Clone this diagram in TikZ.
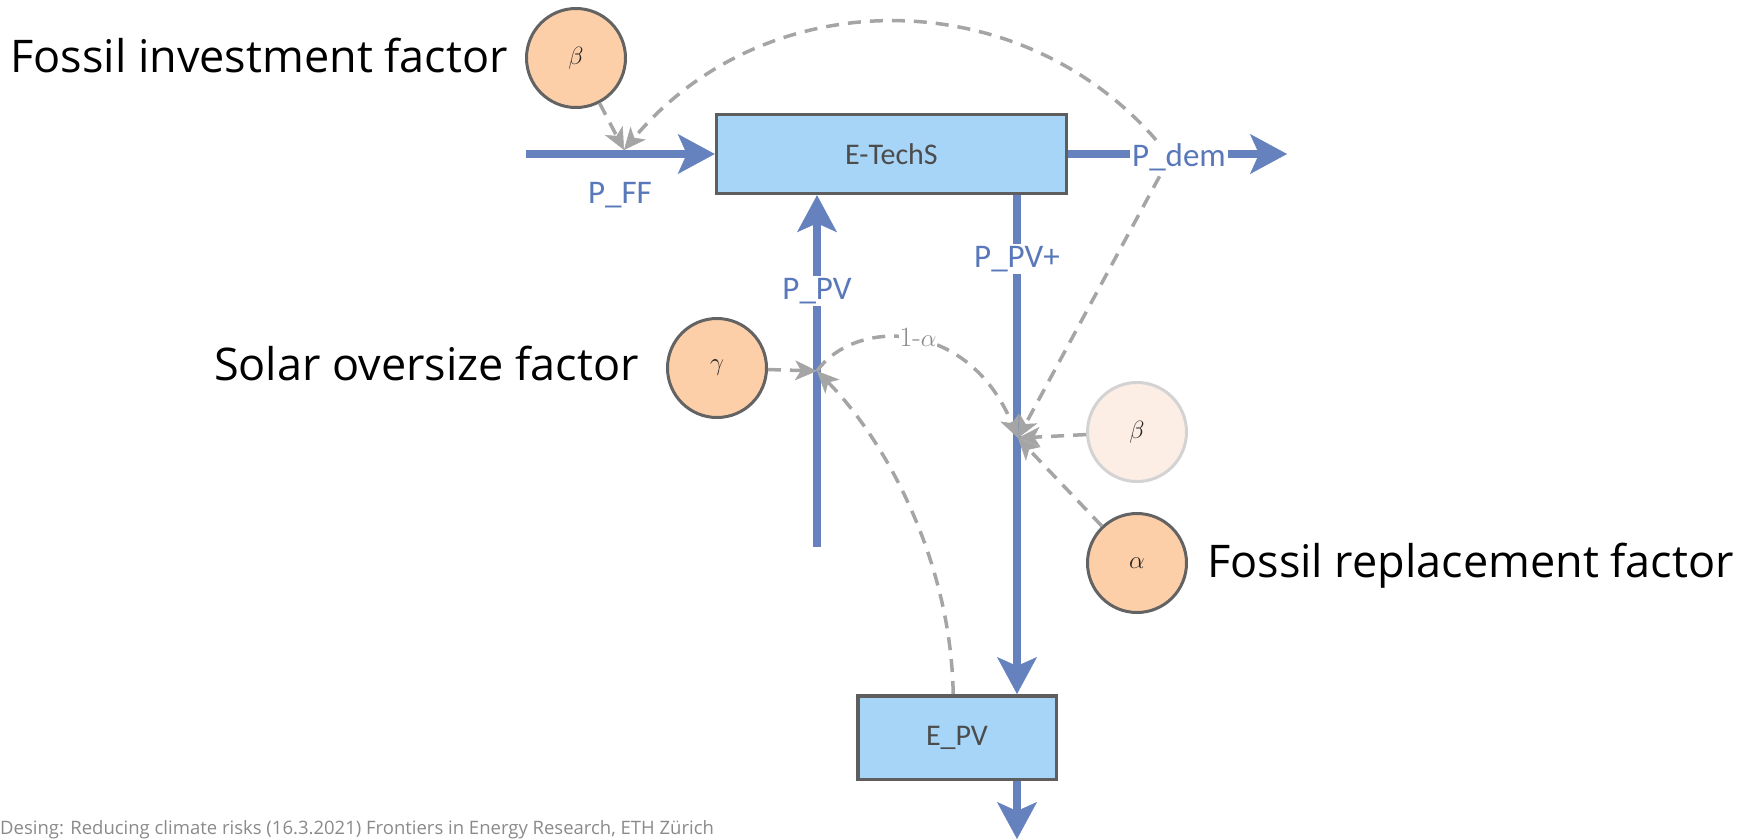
\documentclass[tikz,border=0pt]{standalone}
\usepackage{fontspec}
\usepackage{tikz}
\usetikzlibrary{arrows.meta}
\newfontfamily\labelfont{Open Sans}
\newfontfamily\flowfont{Carlito}
\definecolor{stockblue}{HTML}{A7D5F7}
\definecolor{boxgrey}{HTML}{5E5E5E}
\definecolor{convpeach}{HTML}{FCCFA9}
\definecolor{convgrey}{HTML}{636363}
\definecolor{ghostpeach}{HTML}{FCEEE4}
\definecolor{ghostgrey}{HTML}{D3D3D3}
\definecolor{flowblue}{HTML}{6582BE}
\definecolor{flowtext}{HTML}{5878BA}
\definecolor{linkgrey}{HTML}{A5A5A5}
\definecolor{notegrey}{HTML}{8A8A8A}

\begin{document}
\begin{tikzpicture}[x=1pt,y=-1pt,
        stock/.style={draw=boxgrey,line width=3.5pt,fill=stockblue,inner sep=0pt,
            text=black!70,font=\flowfont\fontsize{30}{36}\selectfont},
        conv/.style={circle,draw=convgrey,line width=3pt,fill=convpeach,
            minimum size=99pt,inner sep=0pt,text=black!85,font=\fontsize{26}{30}\selectfont},
        ghost/.style={conv,draw=ghostgrey,fill=ghostpeach},
        flow/.style={draw=flowblue,line width=8pt,
            -{Stealth[length=37pt,width=40pt,inset=9pt,line width=0.5pt]}},
        link/.style={draw=linkgrey,line width=3.5pt,dash pattern=on 13pt off 9pt,
            -{Stealth[length=22pt,width=20pt,inset=6pt,line width=0.5pt]}},
        flowlabel/.style={fill=white,inner sep=2pt,text=flowtext,
            font=\flowfont\fontsize{33}{36}\selectfont},
        factor/.style={inner sep=0pt,font=\labelfont\fontsize{45}{54}\selectfont}]
        \useasboundingbox (0,0) rectangle (1749,839);

        \node[stock,minimum width=350pt,minimum height=79pt] (etech) at (891.5,154) {E-TechS};
        \node[stock,minimum width=198.5pt,minimum height=83.5pt] (epv) at (957,737.5) {E\_PV};
        \node[conv] (beta) at (576,58) {$\beta$};
        \node[conv] (gamma) at (717,368) {$\gamma$};
        \node[ghost] (betaold) at (1137,432) {$\beta$};
        \node[conv] (alpha) at (1137,563) {$\alpha$};

        \node[factor,anchor=base east] (fiflabel) at (508,72) {Fossil investment factor};
        \node[factor,anchor=base east] (soflabel) at (639,380) {Solar oversize factor};
        \node[factor,anchor=base west] (frflabel) at (1207,577) {Fossil replacement factor};
        \node[anchor=base west,inner sep=0pt,text=notegrey,font=\labelfont\fontsize{18.5}{22}\selectfont]
            (note) at (0,834) {Desing: Reducing climate risks (16.3.2021) Frontiers in Energy Research, ETH Zürich};

        \coordinate (ffin) at (526,154);
        \coordinate (demout) at (1287,154);
        \coordinate (pvin) at (817,547);
        \coordinate (pvout) at (1017,839);
        \coordinate (pffv) at (624,150);
        \coordinate (pdemv) at (1170,157);
        \coordinate (ppvv) at (817,371);
        \coordinate (pvplusv) at (1018,438);

        \draw[flow] (ffin) -- (etech.west);
        \draw[flow] (etech.east) -- (demout);
        \draw[flow] (pvin) -- (pvin |- etech.south);
        \draw[flow] (etech.south -| pvout) -- (epv.north -| pvout);
        \draw[flow] (epv.south -| pvout) -- (pvout);

        \draw[link] (beta) -- (pffv);
        \draw[link] (pdemv) .. controls (1035,-19) and (770,-24) .. (pffv);
        \draw[link] (pdemv) -- (pvplusv);
        \draw[link] (gamma) -- (ppvv);
        \draw[link] (ppvv) .. controls (855,318) and (968,318) .. (pvplusv);
        \draw[link] (betaold) -- (pvplusv);
        \draw[link] (alpha) -- (pvplusv);
        \draw[link] (epv.95) .. controls (951,560) and (885,440) .. (ppvv);

        \node[flowlabel] (pfflabel) at (620,195) {P\_FF};
        \node[flowlabel] (pdemlabel) at (1179,157) {P\_dem};
        \node[flowlabel] (ppvlabel) at (817,291) {P\_PV};
        \node[flowlabel] (ppvpluslabel) at (1017,259) {P\_PV+};
        \node[fill=white,inner sep=1pt,text=notegrey,font=\fontsize{28}{32}\selectfont]
            (onealpha) at (918,337) {1-$\alpha$};
\end{tikzpicture}
\end{document}
